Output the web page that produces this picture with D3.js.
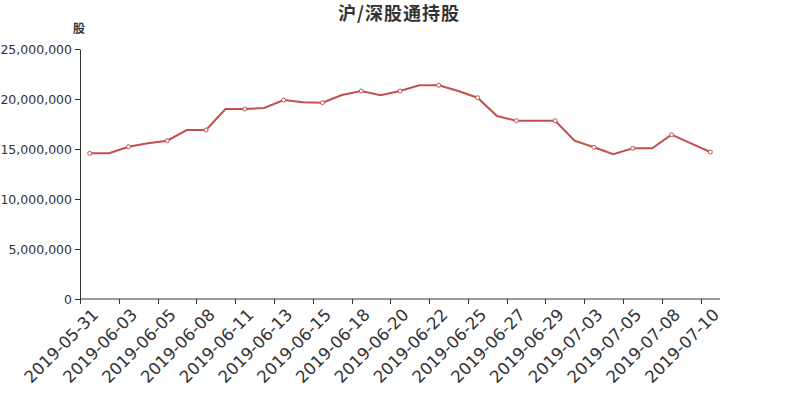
<!DOCTYPE html>
<html><head><meta charset="utf-8">
<script src="https://cdn.jsdelivr.net/npm/d3@7"></script>
<style>body{margin:0;background:#fff;} svg{display:block;}</style>
</head><body>
<svg id="c" width="800" height="400"></svg>
<script>
const title = "沪/深股通持股";
const yUnit = "股";
const dates = ["2019-05-31","2019-06-01","2019-06-03","2019-06-04","2019-06-05","2019-06-06","2019-06-08","2019-06-10",
"2019-06-11","2019-06-12","2019-06-13","2019-06-14","2019-06-15","2019-06-17","2019-06-18","2019-06-19",
"2019-06-20","2019-06-21","2019-06-22","2019-06-24","2019-06-25","2019-06-26","2019-06-27","2019-06-28",
"2019-06-29","2019-07-01","2019-07-03","2019-07-04","2019-07-05","2019-07-06","2019-07-08","2019-07-09","2019-07-10"];
const holdings = [14570000,14570000,15230000,15570000,15830000,16900000,16900000,19000000,
19000000,19100000,19900000,19670000,19630000,20400000,20800000,20370000,
20800000,21370000,21370000,20800000,20130000,18300000,17830000,17830000,
17830000,15830000,15170000,14470000,15070000,15070000,16430000,15570000,14700000];
const yTicks = [0,5000000,10000000,15000000,20000000,25000000];

const svg = d3.select("#c");
const m = {l:80, r:80, t:49, b:101};
const W = 800, H = 400;
const x = d3.scaleBand().domain(dates).range([m.l, W - m.r]).paddingInner(0).paddingOuter(0);
const y = d3.scaleLinear().domain([0, 25000000]).range([H - m.b, m.t]);
const fmt = d3.format(",");
const axisColor = "#333";

svg.append("text").attr("x", 399).attr("y", 20).attr("text-anchor","middle")
  .attr("font-family","'Noto Sans CJK SC', sans-serif").attr("font-size",18).attr("font-weight","bold")
  .attr("letter-spacing",1).attr("fill","#333").text(title);

svg.append("text").attr("x", 79).attr("y", 33).attr("text-anchor","middle")
  .attr("font-family","'Noto Sans CJK SC', sans-serif").attr("font-size",12).attr("font-weight","bold")
  .attr("fill","#333").text(yUnit);

// y axis
const yAxis = svg.append("g").attr("transform",`translate(${m.l},0)`)
  .call(d3.axisLeft(y).tickValues(yTicks).tickFormat(fmt).tickSize(5).tickSizeOuter(0));
yAxis.select(".domain").attr("stroke",axisColor);
yAxis.selectAll(".tick line").attr("stroke",axisColor);
yAxis.selectAll(".tick text").attr("fill",axisColor).attr("font-family","'DejaVu Sans', sans-serif")
  .attr("font-size",12.5).attr("x",-8);

// x axis
const xg = svg.append("g").attr("transform",`translate(0,${H - m.b})`);
xg.append("line").attr("x1", m.l).attr("x2", W - m.r).attr("stroke",axisColor);
const shown = dates.filter((d,i)=> i % 2 === 0);
xg.selectAll("line.tk").data(shown).join("line").attr("class","tk")
  .attr("x1", d => Math.round(x(d)) + 0.5).attr("x2", d => Math.round(x(d)) + 0.5)
  .attr("y1",0).attr("y2",5).attr("stroke",axisColor);
xg.selectAll("text.lb").data(shown).join("text").attr("class","lb")
  .attr("transform", d => `translate(${x(d) + x.bandwidth()/2 + 1},8) rotate(-45)`)
  .attr("text-anchor","end").attr("dy","0.75em")
  .attr("font-family","'DejaVu Sans', sans-serif").attr("font-size",16.6).attr("fill",axisColor)
  .text(d => d);

// line
const cx = d => x(d) + x.bandwidth()/2;
const color = "#c4504d";
svg.append("path").datum(dates.map((d,i)=>[d, holdings[i]]))
  .attr("fill","none").attr("stroke",color).attr("stroke-width",2)
  .attr("d", d3.line().x(p => cx(p[0])).y(p => y(p[1])));
svg.selectAll("circle.pt").data(dates.map((d,i)=>[d, holdings[i], i]).filter(p => p[2] % 2 === 0))
  .join("circle").attr("class","pt")
  .attr("cx", p => cx(p[0])).attr("cy", p => y(p[1])).attr("r", 2)
  .attr("fill","#fff").attr("stroke",color).attr("stroke-width",1);
</script>
</body></html>
